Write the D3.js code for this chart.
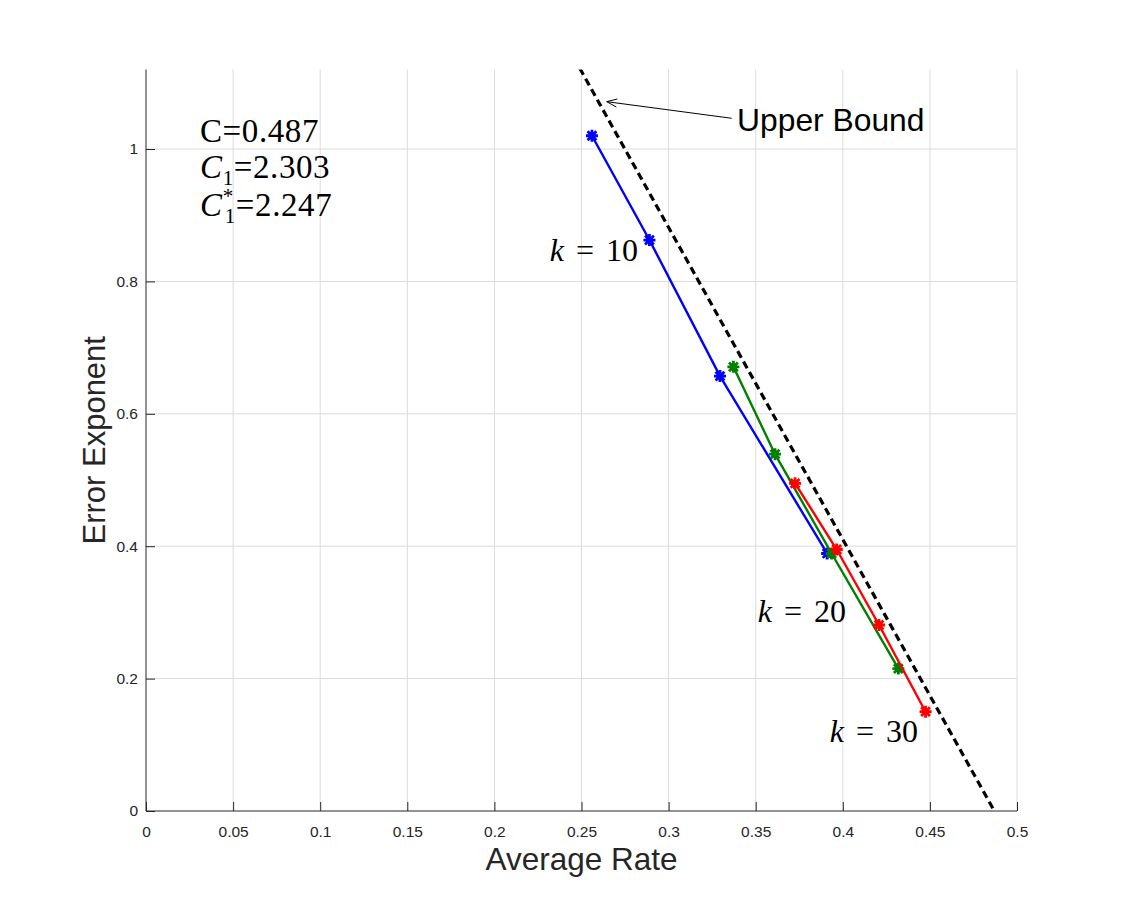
<!DOCTYPE html>
<html>
<head>
<meta charset="utf-8">
<script src="https://cdn.jsdelivr.net/npm/d3@7"></script>
<style>
  body { margin: 0; background: #fff; }
  .tick text { font-family: "Liberation Sans", Arial, sans-serif; }
</style>
</head>
<body>
<div id="my_dataviz"></div>
<script>
// values
const xTicks = [0, 0.05, 0.1, 0.15, 0.2, 0.25, 0.3, 0.35, 0.4, 0.45, 0.5];
const yTicks = [0, 0.2, 0.4, 0.6, 0.8, 1];

const blueRate = [0.256, 0.289, 0.3295, 0.391];
const blueExp  = [1.020, 0.8625, 0.657, 0.389];
const greenRate = [0.3372, 0.3611, 0.3936, 0.4319];
const greenExp  = [0.671, 0.539, 0.389, 0.2152];
const redRate = [0.3726, 0.3965, 0.4208, 0.4475];
const redExp  = [0.495, 0.395, 0.281, 0.150];
const boundRate = [0.2490, 0.4870];
const boundExp  = [1.122, 0];

const kLabels = ["10", "20", "30"];
const kRate = [0.2824, 0.4018, 0.4432];
const kExp  = [0.831, 0.2855, 0.1042];

const constNames = ["C", "C1", "C1*"];
const constValues = ["0.487", "2.303", "2.247"];

const svgW = 1124, svgH = 911;
const x0 = 146, x1 = 1017, yZero = 811, yPerUnit = 662;

const svg = d3.select("#my_dataviz")
  .append("svg")
    .attr("width", svgW)
    .attr("height", svgH)
    .style("background", "#fff");

const x = d3.scaleLinear().domain([0, 0.5]).range([x0, x1]);
const y = d3.scaleLinear().domain([0, 1.12]).range([yZero, yZero - yPerUnit * 1.12]);

const axisColor = "#262626";

// grid
svg.append("g")
  .selectAll("line")
  .data(xTicks.slice(1))
  .join("line")
    .attr("x1", d => x(d)).attr("x2", d => x(d))
    .attr("y1", y(0)).attr("y2", y(1.12))
    .attr("stroke", "#dcdcdc").attr("stroke-width", 1);
svg.append("g")
  .selectAll("line")
  .data(yTicks.slice(1))
  .join("line")
    .attr("x1", x(0)).attr("x2", x(0.5))
    .attr("y1", d => y(d)).attr("y2", d => y(d))
    .attr("stroke", "#dcdcdc").attr("stroke-width", 1);

// axes, ticks pointing inside
const xAxis = svg.append("g")
  .attr("transform", `translate(0, ${y(0)})`)
  .call(d3.axisBottom(x).tickValues(xTicks).tickSizeInner(-9).tickSizeOuter(0).tickPadding(15)
    .tickFormat(d => d3.format("")(+d.toFixed(2))));
const yAxis = svg.append("g")
  .attr("transform", `translate(${x(0)}, 0)`)
  .call(d3.axisLeft(y).tickValues(yTicks).tickSizeInner(-9).tickSizeOuter(0).tickPadding(8)
    .tickFormat(d => d3.format("")(+d.toFixed(1))));
[xAxis, yAxis].forEach(a => {
  a.select(".domain").attr("stroke", axisColor);
  a.selectAll(".tick line").attr("stroke", axisColor);
  a.selectAll(".tick text").attr("fill", axisColor).attr("font-size", 15.5);
});
yAxis.select(".domain").attr("d", `M0,${y(0)}V${y(1.12)}`);
xAxis.select(".domain").attr("d", `M${x(0)},0H${x(0.5)}`);

// axis labels
svg.append("text")
  .attr("x", (x0 + x1) / 2).attr("y", 870)
  .attr("text-anchor", "middle")
  .attr("font-family", "Liberation Sans, Arial, sans-serif")
  .attr("font-size", 31.5).attr("fill", axisColor)
  .text("Average Rate");
svg.append("text")
  .attr("transform", `translate(105, ${y(0.56)}) rotate(-90)`)
  .attr("text-anchor", "middle")
  .attr("font-family", "Liberation Sans, Arial, sans-serif")
  .attr("font-size", 31).attr("fill", axisColor)
  .text("Error Exponent");

// clip to plot area
svg.append("defs").append("clipPath").attr("id", "clip")
  .append("rect")
    .attr("x", x0).attr("y", y(1.12))
    .attr("width", x1 - x0).attr("height", y(0) - y(1.12));

const plot = svg.append("g").attr("clip-path", "url(#clip)");

const line = d3.line().x(d => x(d[0])).y(d => y(d[1]));
const zip = (a, b) => a.map((v, i) => [v, b[i]]);

// upper bound
plot.append("path")
  .datum(zip(boundRate, boundExp))
  .attr("fill", "none")
  .attr("stroke", "#000")
  .attr("stroke-width", 3.2)
  .attr("stroke-dasharray", "7.5,4.5")
  .attr("d", line);

const series = [
  {color: "#0000ff", pts: zip(blueRate, blueExp)},
  {color: "#008000", pts: zip(greenRate, greenExp)},
  {color: "#ff0000", pts: zip(redRate, redExp)}
];

const star = "M-6,0H6M0,-6V6M-4.4,-4.4L4.4,4.4M-4.4,4.4L4.4,-4.4";

series.forEach(s => {
  plot.append("path")
    .datum(s.pts)
    .attr("fill", "none")
    .attr("stroke", s.color)
    .attr("stroke-width", 2.4)
    .attr("d", line);
  plot.selectAll(null)
    .data(s.pts)
    .join("path")
      .attr("transform", d => `translate(${x(d[0])}, ${y(d[1])})`)
      .attr("d", star)
      .attr("stroke", s.color)
      .attr("stroke-width", 2.8)
      .attr("fill", "none");
});

// upper bound annotation with arrow
const arrowFrom = [0.3362, 1.0464], arrowTo = [0.2645, 1.0715];
const ax1 = x(arrowFrom[0]), ay1 = y(arrowFrom[1]), ax2 = x(arrowTo[0]), ay2 = y(arrowTo[1]);
svg.append("line")
  .attr("x1", ax1).attr("y1", ay1).attr("x2", ax2).attr("y2", ay2)
  .attr("stroke", "#000").attr("stroke-width", 1);
const ang = Math.atan2(ay1 - ay2, ax1 - ax2), hl = 11, hw = 0.38;
svg.append("path")
  .attr("d", `M${ax2 + hl * Math.cos(ang + hw)},${ay2 + hl * Math.sin(ang + hw)}L${ax2},${ay2}L${ax2 + hl * Math.cos(ang - hw)},${ay2 + hl * Math.sin(ang - hw)}`)
  .attr("fill", "none").attr("stroke", "#000").attr("stroke-width", 1);
svg.append("text")
  .attr("x", x(0.3393)).attr("y", y(1.027))
  .attr("font-family", "Liberation Sans, Arial, sans-serif")
  .attr("font-size", 31.8).attr("fill", "#000")
  .text("Upper Bound");

// k labels
const serif = "Liberation Serif, Times New Roman, serif";
kLabels.forEach((k, i) => {
  const t = svg.append("text")
    .attr("x", x(kRate[i])).attr("y", y(kExp[i]))
    .attr("text-anchor", "end")
    .attr("font-family", serif).attr("font-size", 32).attr("fill", "#000");
  t.append("tspan").attr("font-style", "italic").text("k");
  t.append("tspan").attr("dx", 12).text("=");
  t.append("tspan").attr("dx", 12).text(k);
});

// constants block, one text element with a line per constant
const cBaseline = [1.0106, 0.9562, 0.8988];
const cText = svg.append("text")
  .attr("font-family", serif).attr("font-size", 33).attr("fill", "#000")
  .attr("letter-spacing", 0.6);
constNames.forEach((n, i) => {
  const first = cText.append("tspan")
    .attr("x", x(0.031)).attr("y", y(cBaseline[i]));
  if (n === "C") {
    first.text("C=" + constValues[i]);
    return;
  }
  first.attr("font-style", "italic").text("C");
  if (n === "C1*") {
    cText.append("tspan").attr("font-size", 21).attr("dy", -13).text("*");
    cText.append("tspan").attr("font-size", 21).attr("dx", -9).attr("dy", 20).text("1");
  } else {
    cText.append("tspan").attr("font-size", 21).attr("dy", 7).text("1");
  }
  cText.append("tspan").attr("y", y(cBaseline[i])).text("=" + constValues[i]);
});
</script>
</body>
</html>
